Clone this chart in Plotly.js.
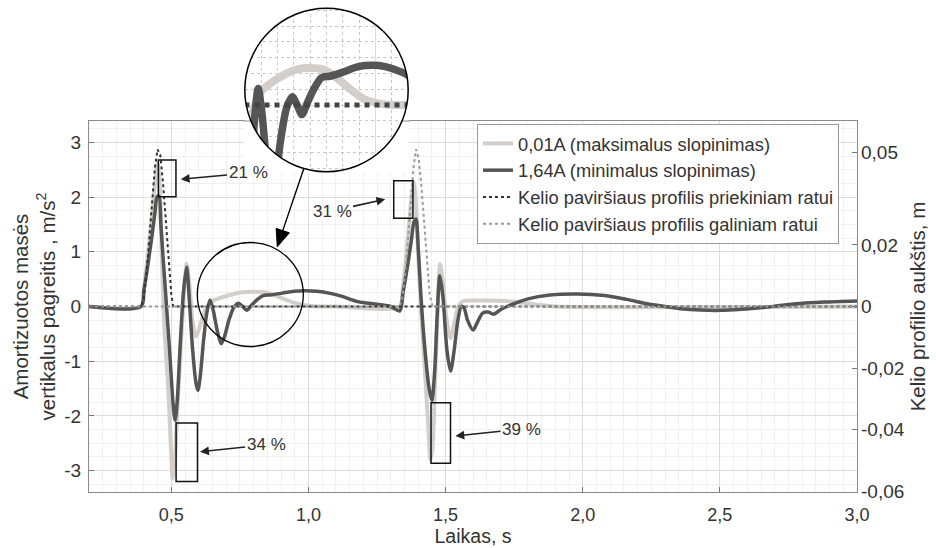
<!DOCTYPE html>
<html>
<head>
<meta charset="utf-8">
<script src="https://cdn.plot.ly/plotly-3.0.1.min.js"></script>
<style>html,body{margin:0;padding:0;background:#fff;}#chart{width:936px;height:548px;}</style>
</head>
<body>
<div id="chart"></div>
<script>
// ---------- data ----------
const seriesNames = ['0,01A (maksimalus slopinimas)', '1,64A (minimalus slopinimas)',
  'Kelio paviršiaus profilis priekiniam ratui', 'Kelio paviršiaus profilis galiniam ratui'];

const timeLight = [0.2, 0.39, 0.40, 0.41, 0.42, 0.43, 0.44, 0.45, 0.457, 0.465, 0.475, 0.489, 0.498, 0.505, 0.512, 0.522, 0.535, 0.547, 0.556, 0.566, 0.578, 0.59, 0.605, 0.625, 0.65, 0.68, 0.72, 0.76, 0.80, 0.84, 0.88, 0.92, 0.96, 1.0, 1.05, 1.1, 1.333, 1.343, 1.355, 1.367, 1.378, 1.384, 1.39, 1.398, 1.41, 1.425, 1.437, 1.445, 1.452, 1.462, 1.472, 1.48, 1.49, 1.503, 1.518, 1.532, 1.548, 1.565, 1.6, 1.65, 1.72, 1.78, 1.84, 1.9, 3.0];
const accLight = [0, 0, 0.3, 0.75, 1.2, 1.7, 2.2, 2.62, 2.3, 1.0, -0.4, -1.5, -2.5, -3.15, -2.9, -1.9, -0.7, 0.3, 0.78, 0.4, -0.3, -0.55, -0.35, -0.05, 0.1, 0.16, 0.22, 0.26, 0.27, 0.26, 0.2, 0.12, 0.05, 0.015, 0, 0, 0, 0.3, 0.85, 1.5, 2.1, 2.28, 2.0, 1.2, 0.0, -1.2, -2.2, -2.8, -2.6, -1.3, 0.0, 0.77, 0.45, -0.2, -0.58, -0.3, 0.02, 0.1, 0.11, 0.11, 0.1, 0.07, 0.03, 0, 0];

const timeDark = [0.2, 0.39, 0.40, 0.41, 0.42, 0.43, 0.44, 0.448, 0.455, 0.462, 0.47, 0.48, 0.495, 0.507, 0.514, 0.522, 0.532, 0.545, 0.556, 0.566, 0.578, 0.59, 0.597, 0.605, 0.618, 0.63, 0.641, 0.652, 0.668, 0.682, 0.694, 0.71, 0.728, 0.745, 0.76, 0.775, 0.792, 0.812, 0.835, 0.86, 0.9, 0.947, 0.99, 1.03, 1.08, 1.12, 1.18, 1.25, 1.30, 1.333,
  1.345, 1.36, 1.375, 1.385, 1.392, 1.40, 1.41, 1.425, 1.44, 1.45, 1.46, 1.47, 1.479, 1.49, 1.505, 1.518, 1.53, 1.545, 1.557, 1.567, 1.58, 1.60, 1.615, 1.635, 1.655, 1.675, 1.70, 1.724, 1.76, 1.80, 1.88, 1.98, 2.08, 2.16, 2.235, 2.30, 2.357, 2.43, 2.503, 2.58, 2.66, 2.72, 2.78, 2.88, 3.0];
const accDark = [0, 0, 0.3, 0.6, 0.95, 1.3, 1.7, 2.0, 2.02, 1.5, 0.9, 0.2, -0.9, -1.8, -2.08, -1.7, -0.75, 0.3, 0.72, 0.1, -0.8, -1.4, -1.53, -1.3, -0.6, -0.1, 0.12, -0.05, -0.45, -0.68, -0.55, -0.25, -0.02, 0.06, 0.0, -0.07, 0.02, 0.12, 0.2, 0.21, 0.24, 0.28, 0.29, 0.28, 0.24, 0.19, 0.09, 0.04, 0.0, -0.08,
  0.25, 0.7, 1.2, 1.55, 1.6, 1.1, 0.2, -0.8, -1.5, -1.72, -1.2, -0.1, 0.56, 0.2, -0.8, -1.18, -0.85, -0.25, 0.0, -0.02, -0.25, -0.43, -0.3, -0.12, -0.1, -0.14, -0.06, 0.0, 0.07, 0.14, 0.21, 0.23, 0.2, 0.13, 0.05, 0.0, -0.04, -0.065, -0.07, -0.05, -0.02, 0.02, 0.05, 0.08, 0.1];

const timeFront = [0.2, 0.39, 0.40, 0.41, 0.42, 0.43, 0.44, 0.45, 0.46, 0.47, 0.48, 0.49, 0.50, 0.507, 3.0];
const heightFront = [0, 0, 0.003, 0.011, 0.022, 0.034, 0.045, 0.051, 0.049, 0.040, 0.028, 0.015, 0.004, 0, 0];
const timeRear = [0.2, 1.333, 1.343, 1.353, 1.363, 1.373, 1.383, 1.392, 1.402, 1.412, 1.422, 1.432, 1.442, 1.452, 3.0];
const heightRear = [0, 0, 0.003, 0.011, 0.022, 0.034, 0.045, 0.051, 0.048, 0.039, 0.027, 0.015, 0.004, 0, 0];

const xTickVals = [0.5, 1.0, 1.5, 2.0, 2.5, 3.0];
const xTickText = ['0,5', '1,0', '1,5', '2,0', '2,5', '3,0'];
const yTickVals = [-3, -2, -1, 0, 1, 2, 3];
const yTickText = ['-3', '-2', '-1', '0', '1', '2', '3'];
const y2TickVals = [-0.06, -0.04, -0.02, 0, 0.02, 0.05];
const y2TickText = ['-0,06', '-0,04', '-0,02', '0', '0,02', '0,05'];

const pctLabels = ['21 %', '31 %', '34 %', '39 %'];

// ---------- styles / geometry ----------
const LIGHT = '#d3cec9', DARK = '#555555';
const FONT = 'Liberation Sans, Arial, Helvetica, sans-serif';
const W = 936, H = 548, ML = 89, MR = 79, MT = 4, MB = 56;
const PW = W - ML - MR, PH = H - MT - MB;
const px = v => (v - ML) / PW;          // pixel x -> paper x
const py = v => (H - MB - v) / PH;      // pixel y -> paper y

const traces = [
  {x: timeLight, y: accLight, name: seriesNames[0], type: 'scatter', mode: 'lines',
   line: {color: LIGHT, width: 4, shape: 'spline', smoothing: 0.8}, xaxis: 'x', yaxis: 'y'},
  {x: timeDark, y: accDark, name: seriesNames[1], type: 'scatter', mode: 'lines',
   line: {color: DARK, width: 3.5, shape: 'spline', smoothing: 0.8}, xaxis: 'x', yaxis: 'y'},
  {x: timeFront, y: heightFront, name: seriesNames[2], type: 'scatter', mode: 'lines',
   line: {color: '#333333', width: 2, dash: 'dot'}, xaxis: 'x', yaxis: 'y2'},
  {x: timeRear, y: heightRear, name: seriesNames[3], type: 'scatter', mode: 'lines',
   line: {color: '#9a9a9a', width: 2, dash: 'dot'}, xaxis: 'x', yaxis: 'y2'},
  // inset (magnified) copies
  {x: timeLight, y: accLight, showlegend: false, type: 'scatter', mode: 'lines', hoverinfo: 'skip',
   line: {color: LIGHT, width: 8, shape: 'spline', smoothing: 0.8}, xaxis: 'x2', yaxis: 'y3'},
  {x: timeFront, y: heightFront, showlegend: false, type: 'scatter', mode: 'lines', hoverinfo: 'skip',
   line: {color: '#444444', width: 5, dash: 'dot'}, xaxis: 'x2', yaxis: 'y4'},
  {x: timeDark, y: accDark, showlegend: false, type: 'scatter', mode: 'lines', hoverinfo: 'skip',
   line: {color: DARK, width: 7.5, shape: 'spline', smoothing: 0.8}, xaxis: 'x2', yaxis: 'y3'}
];

const CX = 326.5, CY = 90, R = 81.7;   // inset circle (pixels)
const k = 0.5523 * R;
const circ = `M ${-R},0 C ${-R},${k} ${-k},${R} 0,${R} C ${k},${R} ${R},${k} ${R},0 C ${R},${-k} ${k},${-R} 0,${-R} C ${-k},${-R} ${-R},${-k} ${-R},0 Z`;
const Q = R + 1;
const maskPath = `M ${-Q},${-Q} L ${Q},${-Q} L ${Q},${Q} L ${-Q},${Q} Z ` + circ;

// big arrow from inset to small circle (pixels)
const A0 = [304, 168], A1 = [277.3, 246.7], headL = 17, headW = 7;
const dx = A1[0] - A0[0], dy = A1[1] - A0[1], dl = Math.hypot(dx, dy);
const ux = dx / dl, uy = dy / dl, nx = -uy, ny = ux;
const bx = A1[0] - headL * ux, by = A1[1] - headL * uy;
const headPath = `M ${px(A1[0])},${py(A1[1])} L ${px(bx + headW * nx)},${py(by + headW * ny)} L ${px(bx - headW * nx)},${py(by - headW * ny)} Z`;

const topY = 121;
const shapes = [
  {type: 'circle', xref: 'paper', yref: 'paper', xsizemode: 'pixel', ysizemode: 'pixel',
   xanchor: px(CX), yanchor: py(CY), x0: -R, x1: R, y0: -R, y1: R,
   fillcolor: 'white', line: {width: 0}, layer: 'below'},
  {type: 'rect', xref: 'x', yref: 'y', x0: 0.453, x1: 0.517, y0: 2.007, y1: 2.677, line: {color: '#111', width: 1.5}},
  {type: 'rect', xref: 'x', yref: 'y', x0: 1.311, x1: 1.381, y0: 1.612, y1: 2.299, line: {color: '#111', width: 1.5}},
  {type: 'rect', xref: 'x', yref: 'y', x0: 0.5175, x1: 0.5955, y0: -3.20, y1: -2.13, line: {color: '#111', width: 1.5}},
  {type: 'rect', xref: 'x', yref: 'y', x0: 1.447, x1: 1.518, y0: -2.865, y1: -1.758, line: {color: '#111', width: 1.5}},
  {type: 'path', xref: 'paper', yref: 'paper', xsizemode: 'pixel', ysizemode: 'pixel',
   xanchor: px(CX), yanchor: py(CY), path: maskPath, fillcolor: 'white', fillrule: 'evenodd',
   line: {width: 0}, layer: 'above'},
  {type: 'line', xref: 'paper', yref: 'paper', x0: px(CX - Q - 1), x1: px(CX - 75.2), y0: py(topY), y1: py(topY),
   line: {color: '#8a8a8a', width: 1}, layer: 'above'},
  {type: 'line', xref: 'paper', yref: 'paper', x0: px(CX + 75.2), x1: px(CX + Q + 1), y0: py(topY), y1: py(topY),
   line: {color: '#8a8a8a', width: 1}, layer: 'above'},
  {type: 'circle', xref: 'paper', yref: 'paper', xsizemode: 'pixel', ysizemode: 'pixel',
   xanchor: px(CX), yanchor: py(CY), x0: -R, x1: R, y0: -R, y1: R,
   line: {color: '#000', width: 1.5}, layer: 'above'},
  {type: 'circle', xref: 'paper', yref: 'paper', xsizemode: 'pixel', ysizemode: 'pixel',
   xanchor: px(250.3), yanchor: py(294.5), x0: -53, x1: 53, y0: -52, y1: 52,
   line: {color: '#000', width: 1.3}, layer: 'above'},
  {type: 'line', xref: 'paper', yref: 'paper', x0: px(A0[0]), y0: py(A0[1]), x1: px(bx), y1: py(by),
   line: {color: '#000', width: 1.4}, layer: 'above'},
  {type: 'path', xref: 'paper', yref: 'paper', path: headPath, fillcolor: '#000',
   line: {color: '#000', width: 1}, layer: 'above'}
];

const annFont = {family: FONT, size: 17, color: '#333'};
const arrowStyle = {showarrow: true, arrowhead: 2, arrowsize: 1.1, arrowwidth: 1.6, arrowcolor: '#222', font: annFont};
const annotations = [
  Object.assign({xref: 'x', yref: 'y', x: 0.5347, y: 2.325, axref: 'x', ayref: 'y', ax: 0.780, ay: 2.44, text: pctLabels[0]}, arrowStyle),
  Object.assign({xref: 'x', yref: 'y', x: 1.280, y: 1.959, axref: 'x', ayref: 'y', ax: 1.086, ay: 1.745, text: pctLabels[1]}, arrowStyle),
  Object.assign({xref: 'x', yref: 'y', x: 0.605, y: -2.653, axref: 'x', ayref: 'y', ax: 0.846, ay: -2.53, text: pctLabels[2]}, arrowStyle),
  Object.assign({xref: 'x', yref: 'y', x: 1.536, y: -2.367, axref: 'x', ayref: 'y', ax: 1.777, ay: -2.24, text: pctLabels[3]}, arrowStyle)
];

const tickFont = {family: FONT, size: 19, color: '#333'};
const xTickFont = {family: FONT, size: 18, color: '#333'};
const titleFont = {family: FONT, size: 20.5, color: '#333'};
const layout = {
  width: W, height: H,
  margin: {l: ML, r: MR, t: MT, b: MB, pad: 0},
  paper_bgcolor: '#ffffff', plot_bgcolor: '#ffffff',
  font: {family: FONT, size: 17, color: '#333'},
  showlegend: true,
  legend: {x: px(477), y: py(124), xanchor: 'left', yanchor: 'top', bgcolor: '#ffffff',
           bordercolor: '#9a9a9a', borderwidth: 1, font: {family: FONT, size: 18.3, color: '#333'},
           itemwidth: 30, tracegroupgap: 0},
  xaxis: {domain: [0, 1], range: [0.2, 3.0], anchor: 'y', tickvals: xTickVals, ticktext: xTickText,
          ticks: 'inside', ticklen: 5, tickcolor: '#777', showline: true, linecolor: '#8a8a8a', linewidth: 1, mirror: true,
          showgrid: true, gridcolor: '#dcdcdc', gridwidth: 1, zeroline: false, ticklabelstandoff: 6,
          minor: {dtick: 0.05, tick0: 0, showgrid: true, gridcolor: '#f0f0f0', gridwidth: 1, ticks: ''},
          tickfont: xTickFont, title: {text: 'Laikas, s', font: {family: FONT, size: 19.5, color: '#333'}, standoff: 4}},
  yaxis: {domain: [0, py(topY)], range: [-3.39, 3.39], anchor: 'x', tickvals: yTickVals, ticktext: yTickText,
          ticks: 'inside', ticklen: 5, tickcolor: '#777', showline: true, linecolor: '#8a8a8a', linewidth: 1, mirror: true,
          showgrid: true, gridcolor: '#dcdcdc', gridwidth: 1, zeroline: false, ticklabelstandoff: 3,
          minor: {dtick: 0.25, tick0: 0, showgrid: true, gridcolor: '#f0f0f0', gridwidth: 1, ticks: ''},
          tickfont: tickFont,
          title: {text: 'Amortizuotos masės<br>vertikalus pagreitis , m/s<sup>2</sup>', font: titleFont, standoff: 3}},
  yaxis2: {overlaying: 'y', side: 'right', anchor: 'x', range: [-0.0602, 0.0602], tickvals: y2TickVals, ticktext: y2TickText,
           ticks: 'inside', ticklen: 5, tickcolor: '#777', showline: false, showgrid: false, zeroline: false, ticklabelstandoff: 3,
           tickfont: tickFont,
           title: {text: 'Kelio profilio aukštis, m', font: titleFont, standoff: 6}},
  xaxis2: {domain: [px(CX - R), px(CX + R)], range: [0.60, 1.10], anchor: 'y3', showticklabels: false, ticks: '',
           showline: false, zeroline: false, tickvals: [1.0], showgrid: true, gridcolor: '#dddddd',
           minor: {dtick: 0.05, tick0: 0, showgrid: true, gridcolor: '#c8c8c8', griddash: 'dot', gridwidth: 1}},
  yaxis3: {domain: [py(CY + R), py(CY - R)], range: [-0.487, 0.706], anchor: 'x2', showticklabels: false, ticks: '',
           showline: false, zeroline: false, dtick: 0.115, tick0: 0, showgrid: true, gridcolor: '#c8c8c8', griddash: 'dot'},
  yaxis4: {overlaying: 'y3', range: [-0.00865, 0.01254], visible: false, anchor: 'x2'},
  shapes: shapes,
  annotations: annotations
};

Plotly.newPlot('chart', traces, layout, {displayModeBar: false, staticPlot: true});
</script>
</body>
</html>
